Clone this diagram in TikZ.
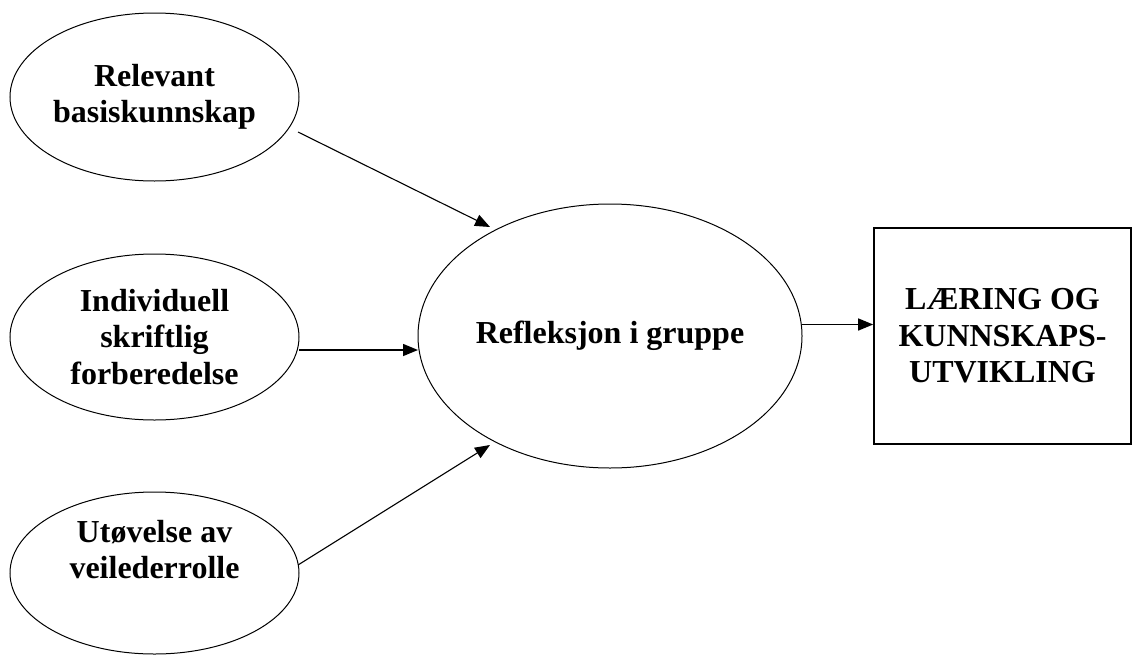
\documentclass[tikz,border=0pt]{standalone}
\usepackage{fontspec}
\setmainfont{Liberation Serif}
\usetikzlibrary{shapes.geometric,arrows.meta,calc}
\begin{document}
\begin{tikzpicture}[x=1pt,y=-1pt,
  every node/.style={font=\fontsize{32}{36.5}\selectfont\bfseries, align=center, inner sep=0pt},
  oval/.style={ellipse, draw, line width=1pt, minimum width=289pt},
  bigoval/.style={ellipse, draw, line width=1pt, minimum width=384pt, minimum height=264pt},
  box/.style={rectangle, draw, line width=1.7pt, minimum width=257pt, minimum height=216pt},
  arr/.style={-{Triangle[length=15pt,width=12pt]}, line width=1.1pt},
  arrh/.style={-{Triangle[length=15pt,width=12pt]}, line width=1.5pt}
]
\useasboundingbox (0,0) rectangle (1132,656);
\node[oval, minimum height=168pt] (e1) at (154.5,97) {Relevant\\basiskunnskap};
\node[oval, minimum height=166pt] (e2) at (154.5,337) {Individuell\\skriftlig\\forberedelse};
\node[oval, minimum height=162pt] (e3) at (154.5,573) {Utøvelse av\\veilederrolle\\\strut};
\node[bigoval] (big) at (610,336) {Refleksjon i gruppe};
\node[box] (res) at (1002.5,336) {LÆRING OG\\KUNNSKAPS-\\UTVIKLING};
\draw[arr] ($(e1.center)+(143.5,35)$) -- ($(big.center)+(-120,-109)$);
\draw[arrh] ($(e2.center)+(144.5,13)$) -- ($(big.center)+(-192,14)$);
\draw[arr] ($(e3.center)+(143.5,-8)$) -- ($(big.center)+(-120,109)$);
\draw[arrh] ($(big.center)+(192,-11.5)$) -- ($(res.west)+(0,-11.5)$);
\end{tikzpicture}
\end{document}
